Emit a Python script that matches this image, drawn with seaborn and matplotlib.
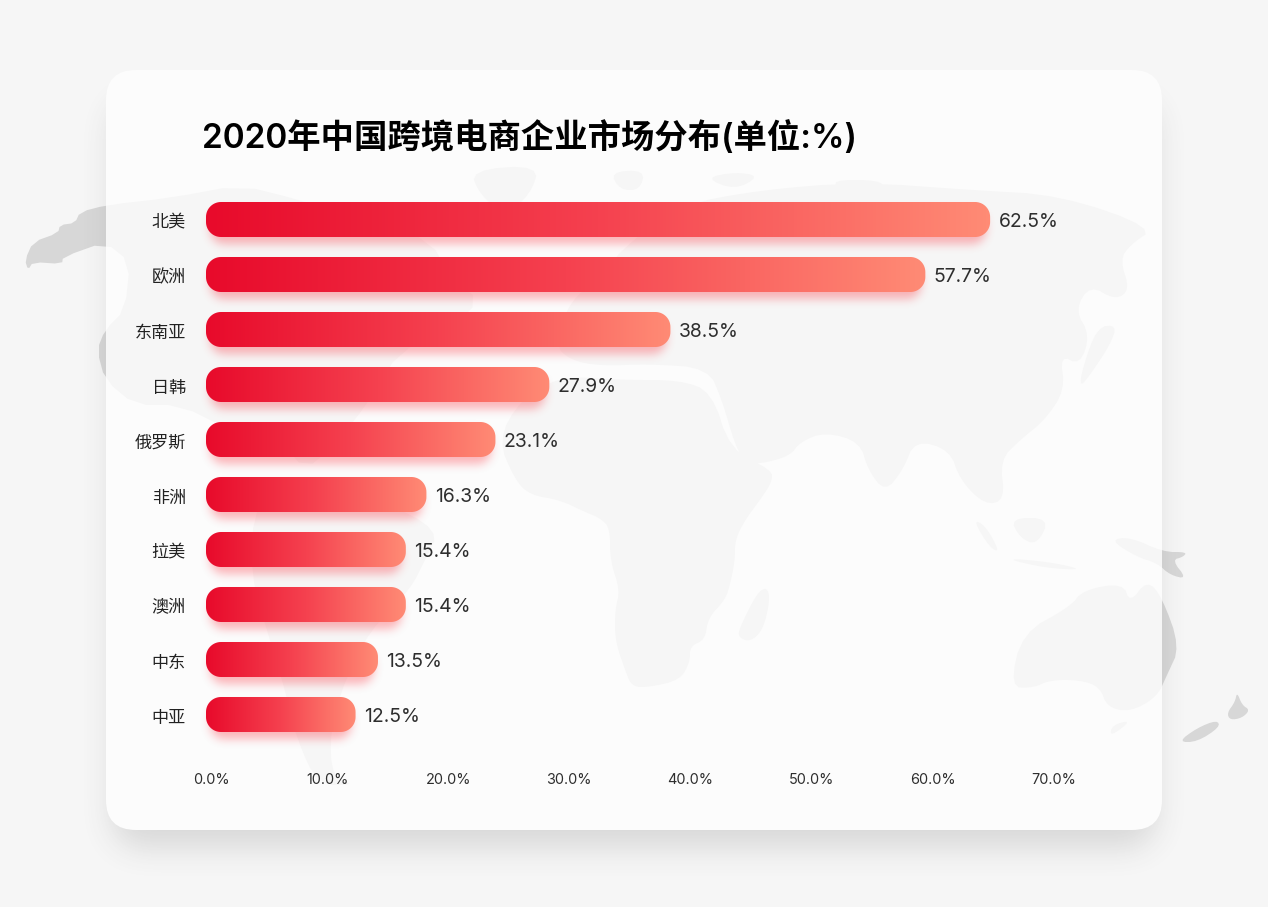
import numpy as np
import pandas as pd
import seaborn as sns
import matplotlib
matplotlib.use("Agg")
import matplotlib.pyplot as plt
from matplotlib.patches import FancyBboxPatch, Polygon
from matplotlib.colors import LinearSegmentedColormap
from matplotlib.transforms import ScaledTranslation

W, H = 1268, 907

# ---------- data ----------
title = "2020年中国跨境电商企业市场分布(单位:%)"
categories = ["北美", "欧洲", "东南亚", "日韩", "俄罗斯", "非洲", "拉美", "澳洲", "中东", "中亚"]
printed_shares = ["62.5%", "57.7%", "38.5%", "27.9%", "23.1%", "16.3%", "15.4%", "15.4%", "13.5%", "12.5%"]
# bar lengths as drawn against the printed axis
bar_lengths = [64.75, 59.4, 38.35, 28.35, 23.9, 18.2, 16.5, 16.5, 14.2, 12.35]
tick_values = [0, 10, 20, 30, 40, 50, 60, 70]
tick_labels = ["0.0%", "10.0%", "20.0%", "30.0%", "40.0%", "50.0%", "60.0%", "70.0%"]

# ---------- decorative world map outline, in picture pixels ----------
ALASKA = [(25,260),(33,242),(58,233),(60,225),(75,223),(80,212),(107,205),(170,198),(240,185),(300,200),(380,225),(430,240),
          (452,280),(480,300),(450,330),(400,350),(370,400),(335,445),(305,470),(280,440),(230,430),(180,405),(135,405),
          (105,380),(97,350),(105,330),(125,310),(130,262),(105,242),(63,257),(62,264),(33,262),(28,270)]
MAP = [
    [(470,170),(540,165),(530,195),(505,215),(480,195)],
    [(610,172),(645,170),(640,190),(620,190)],
    [(705,178),(735,172),(760,176),(735,190)],
    [(830,180),(880,180),(885,190),(845,192)],
    [(255,500),(300,482),(380,500),(440,530),(425,560),(410,590),(370,630),(345,680),(330,730),(332,778),(356,785),(318,785),
     (297,740),(285,690),(270,640),(250,575)],
    [(498,440),(520,400),(560,376),(620,380),(680,380),(712,392),(730,450),(772,470),(772,482),(760,500),(745,520),(735,540),
     (735,560),(730,585),(725,600),(708,618),(705,640),(690,646),(690,662),(680,680),(650,687),(632,687),(625,670),(615,640),
     (615,610),(620,590),(610,560),(610,528),(600,518),(585,512),(560,500),(530,495),(515,480)],
    [(767,587),(770,600),(763,630),(750,642),(738,637),(740,627),(757,593)],
    [(555,345),(570,300),(600,280),(620,250),(680,205),(760,190),(860,182),(970,190),(1060,195),(1155,228),(1130,245),(1120,260),
     (1130,290),(1115,300),(1090,285),(1075,310),(1090,335),(1080,365),(1060,355),(1065,390),(1045,420),(1020,440),(1000,460),
     (1005,500),(985,505),(960,480),(950,450),(915,440),(903,470),(885,492),(868,470),(860,442),(825,432),(800,442),(790,456),
     (760,464),(745,462),(735,445),(722,400),(708,368),(650,364),(600,366),(570,360)],
    [(1097,327),(1117,325),(1110,345),(1090,375),(1080,387),(1082,370)],
    [(1010,687),(1022,633),(1070,607),(1083,590),(1123,583),(1130,603),(1147,580),(1162,597),(1180,647),(1167,675),(1157,697),
     (1130,712),(1107,707),(1100,687),(1080,680),(1050,680),(1033,688)],
    [(1110,737),(1112,725),(1132,720)],
    [(1178,742),(1197,728),(1217,720),(1220,727),(1197,742)],
    [(1237,692),(1242,705),(1250,710),(1242,718),(1230,720),(1227,713),(1235,702)],
    [(1110,540),(1130,537),(1163,552),(1187,552),(1183,557),(1172,560),(1187,579),(1170,575),(1157,563),(1137,557)],
    [(1003,558),(1050,562),(1085,570),(1045,568)],
    [(973,520),(985,525),(1000,552),(990,548)],
    [(1010,518),(1050,518),(1037,545),(1020,538)],
]


def chaikin(points, rounds=2):
    p = np.asarray(points, float)
    for _ in range(rounds):
        q = np.roll(p, -1, axis=0)
        p = np.column_stack([0.75 * p + 0.25 * q, 0.25 * p + 0.75 * q]).reshape(-1, 2)
    return p


MAP_SHAPES = [chaikin(ALASKA, 1)] + [chaikin(m, 2) for m in MAP]


def rrect_mask(x0, y0, x1, y1, r):
    yy, xx = np.mgrid[0:H, 0:W] + 0.5
    cx, cy = (x0 + x1) / 2, (y0 + y1) / 2
    dx = np.abs(xx - cx) - ((x1 - x0) / 2 - r)
    dy = np.abs(yy - cy) - ((y1 - y0) / 2 - r)
    d = np.hypot(np.maximum(dx, 0), np.maximum(dy, 0)) + np.minimum(np.maximum(dx, dy), 0) - r
    return np.clip(0.5 - d, 0, 1)


def box_blur(a, radius, passes=3):
    for axis in (0, 1):
        for _ in range(passes):
            pad = [(radius + 1, radius) if i == axis else (0, 0) for i in range(2)]
            c = np.cumsum(np.pad(a, pad, mode="edge"), axis=axis)
            if axis == 0:
                a = (c[2 * radius + 1:, :] - c[:-(2 * radius + 1), :]) / (2 * radius + 1)
            else:
                a = (c[:, 2 * radius + 1:] - c[:, :-(2 * radius + 1)]) / (2 * radius + 1)
    return a


def rgba(mask, rgb, alpha):
    out = np.zeros((H, W, 4))
    out[..., :3] = np.array(rgb) / 255
    out[..., 3] = np.clip(mask * alpha, 0, 1)
    return out


def rounded_outline(x, y, w, h, rx, ry, n=16):
    """Rounded bar outline with true elliptical corners, in data units."""
    pts = []
    centres = [(x + w - rx, y + ry, -90), (x + w - rx, y + h - ry, 0), (x + rx, y + h - ry, 90), (x + rx, y + ry, 180)]
    for cx, cy, start in centres:
        t = np.radians(np.linspace(start, start + 90, n))
        pts.append(np.column_stack([cx + rx * np.cos(t), cy + ry * np.sin(t)]))
    return np.vstack(pts)


sns.set_theme(style="white")
plt.rcParams["font.family"] = ["Inter", "Noto Sans CJK SC", "DejaVu Sans"]
TEXT = "#2e2e2e"

fig = plt.figure(figsize=(W / 100, H / 100), dpi=100, facecolor="#f6f6f6")

# ---------- backdrop layer ----------
bg = fig.add_axes([0, 0, 1, 1], zorder=0)
for shape in MAP_SHAPES:
    bg.add_patch(Polygon(shape, closed=True, fc="#d7d7d7", ec="none", zorder=1))

card_shadow = box_blur(rrect_mask(112, 100, 1156, 848, 30), 14)
bg.imshow(rgba(card_shadow, (70, 70, 70), 0.17), extent=(0, W, H, 0), aspect="auto", zorder=2, interpolation="nearest")
card = FancyBboxPatch((106 + 30, 70 + 30), 1056 - 60, 760 - 60, boxstyle="round,pad=30,rounding_size=30",
                      fc="#fcfcfc", ec="none", zorder=3)
bg.add_patch(card)
for shape in MAP_SHAPES:
    piece = Polygon(shape, closed=True, fc="#f6f6f6", ec="none", zorder=4)
    bg.add_patch(piece)
    piece.set_clip_path(card)

# ---------- chart layer ----------
ax = fig.add_axes([206 / W, (H - 742) / H, 894 / W, 550 / H], zorder=1)
ax.patch.set_alpha(0)
df = pd.DataFrame({"region": categories, "length": bar_lengths})
sns.barplot(data=df, x="length", y="region", orient="h", width=35 / 55, color="#f0384a", ax=ax, saturation=1)
ax.set_xlim(0, 894 / 12.11)
ax.set_ylim(len(categories) - 0.5, -0.5)
ax.set_xlabel("")
ax.set_ylabel("")
sns.despine(ax=ax, left=True, bottom=True)
ax.grid(False)
ax.set_xticks(tick_values, tick_labels)
ax.tick_params(axis="x", length=0, pad=22, labelsize=10.4, labelcolor=TEXT)
ax.tick_params(axis="y", length=0, pad=14.4, labelsize=12.3, labelcolor="#222222")
first = ax.get_xticklabels()[0]
first.set_transform(first.get_transform() + ScaledTranslation(5 / 100, 0, fig.dpi_scale_trans))
for lab in ax.get_yticklabels():
    lab.set_transform(lab.get_transform() + ScaledTranslation(0, -1.5 / 100, fig.dpi_scale_trans))

title_text = ax.set_title(title, loc="left", fontsize=24, fontweight="semibold", color="#000000", pad=32)
title_text.set_x(-4 / 894)

gradient_cmap = LinearSegmentedColormap.from_list("bar", ["#e80a2b", "#f5414f", "#ff8b75"])
gradient = np.linspace(0, 1, 256).reshape(1, -1)
corner = 15
rx = corner / 12.11
ry = corner / 55
shadow_mask = np.zeros((H, W))
fig.canvas.draw()
for bar in ax.containers[0]:
    x, y, w, h = bar.get_x(), bar.get_y(), bar.get_width(), bar.get_height()
    bar.set_visible(False)
    outline = Polygon(rounded_outline(x, y, w, h, rx, ry), closed=True, fc="none", ec="none", zorder=2)
    ax.add_patch(outline)
    im = ax.imshow(gradient, cmap=gradient_cmap, extent=(x, x + w, y + h, y), aspect="auto", zorder=3, interpolation="bilinear")
    im.set_clip_path(outline)
    (px0, py0), (px1, py1) = ax.transData.transform([(x, y + h), (x + w, y)])
    top, bottom = H - py1, H - py0
    shadow_mask = np.maximum(shadow_mask, rrect_mask(px0 + 4, top + 8, px1 - 4, bottom + 7, 14))
ax.set_xlim(0, 894 / 12.11)
ax.set_ylim(len(categories) - 0.5, -0.5)
for ann in ax.bar_label(ax.containers[0], labels=printed_shares, padding=6, fontsize=13.9, color=TEXT):
    ann.xyann = (6, -1.8)

shadow_mask = box_blur(shadow_mask, 4)
bg.imshow(rgba(shadow_mask, (250, 60, 72), 0.38), extent=(0, W, H, 0), aspect="auto", zorder=6, interpolation="nearest")
bg.set_xlim(0, W)
bg.set_ylim(H, 0)
bg.axis("off")

fig.savefig("out.png", dpi=100, facecolor=fig.get_facecolor())
